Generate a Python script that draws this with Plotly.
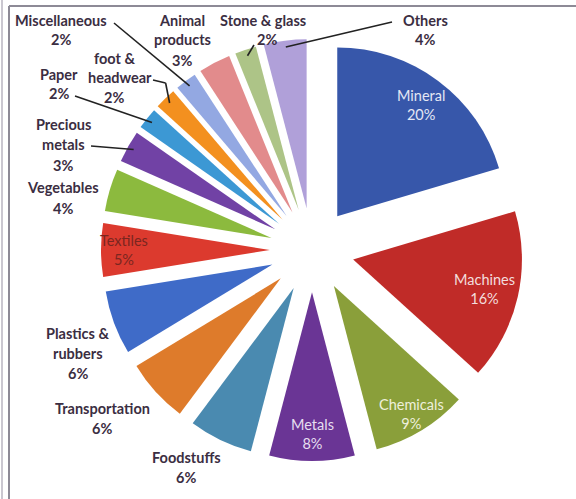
import math
import plotly.graph_objects as go

# ---------------- data ----------------
categories = ["Mineral", "Machines", "Chemicals", "Metals", "Foodstuffs",
              "Transportation", "Plastics & rubbers", "Textiles", "Vegetables",
              "Precious metals", "Paper", "foot & headwear", "Miscellaneous",
              "Animal products", "Stone & glass", "Others"]
shares = [20, 16, 9, 8, 6, 6, 6, 5, 4, 3, 2, 2, 2, 3, 2, 4]
colors = ["#3757aa", "#c02b28", "#8a9f3a", "#6a3595", "#4a8ab0",
          "#de7b2b", "#3f6bc8", "#dc3a2e", "#8cba3e", "#7142a5",
          "#3c98d4", "#f3901f", "#93a8e2", "#e28b8c", "#adc487", "#b0a0d9"]

# label text lines (outside labels) and inside-label categories
label_lines = {
    "Miscellaneous": ["Miscellaneous", "2%"],
    "Animal products": ["Animal", "products", "3%"],
    "Stone & glass": ["Stone & glass", "2%"],
    "Others": ["Others", "4%"],
    "foot & headwear": ["foot &", "headwear", "2%"],
    "Paper": ["Paper", "2%"],
    "Precious metals": ["Precious", "metals", "3%"],
    "Vegetables": ["Vegetables", "4%"],
    "Plastics & rubbers": ["Plastics &", "rubbers", "6%"],
    "Transportation": ["Transportation", "6%"],
    "Foodstuffs": ["Foodstuffs", "6%"],
}
inside_labels = ["Mineral", "Machines", "Chemicals", "Metals", "Textiles"]

# ---------------- layout geometry ----------------
W, H = 576, 499
CX, CY = 312, 250          # pie centre (px)
S = 211                    # radius incl. pull (px)
PULL = 0.25

def px(x):
    return x / W

def py(y):
    return 1 - y / H

fig = go.Figure()
fig.add_trace(go.Pie(
    labels=categories, values=shares, sort=False, direction="clockwise",
    rotation=0, pull=[PULL] * len(shares),
    marker=dict(colors=colors, line=dict(width=0)),
    textinfo="none", hovertemplate="%{label}: %{value}%<extra></extra>",
    domain=dict(x=[px(CX - S), px(CX + S)], y=[py(CY + S), py(CY - S)]),
    showlegend=False,
))

# mid angles from data
total = sum(shares)
mid = {}
acc = 0
for c, v in zip(categories, shares):
    mid[c] = (acc + v / 2) / total * 2 * math.pi
    acc += v

def slice_point(c, frac):
    a = mid[c]
    return CX + frac * S * math.sin(a), CY - frac * S * math.cos(a)

annotations = []
txt_col = "#3b2e42"
FONT = "Lato"
FS = 14.5
FS_IN = 14.5

# outside label positions (px, centre of first line)
label_pos = {
    "Miscellaneous": (61, 20),
    "Animal products": (182, 20),
    "Stone & glass": (263, 20),
    "Others": (425, 20),
    "foot & headwear": (114, 58),
    "Paper": (59, 74),
    "Precious metals": (63, 125),
    "Vegetables": (63, 188),
    "Plastics & rubbers": (78, 333),
    "Transportation": (102, 408),
    "Foodstuffs": (186, 457),
}
for c, lines in label_lines.items():
    x0, y0 = label_pos[c]
    for i, t in enumerate(lines):
        xx = x0
        if c == "foot & headwear" and i == 1:
            xx = x0 + 6
        if c == "Stone & glass" and i == 1:
            xx = x0 + 4
        annotations.append(dict(
            x=px(xx), y=py(y0 + 20 * i), xref="paper", yref="paper",
            text="<b>%s</b>" % t, showarrow=False, xanchor="center", yanchor="middle",
            font=dict(family=FONT, size=FS, color=txt_col)))

inside_cols = {"Mineral": "#e4e7f4", "Machines": "#f3dede", "Chemicals": "#eef0dc",
               "Metals": "#e6def0", "Textiles": "#7a2620"}
inside_frac = {"Mineral": 0.86, "Machines": 0.84, "Chemicals": 0.91,
               "Metals": 0.87, "Textiles": 0.89}
for c in inside_labels:
    x, y = slice_point(c, inside_frac[c])
    v = shares[categories.index(c)]
    annotations.append(dict(
        x=px(x), y=py(y), xref="paper", yref="paper",
        text="%s<br>%d%%" % (c, v), showarrow=False, xanchor="center", yanchor="middle",
        font=dict(family=FONT, size=FS_IN, color=inside_cols[c])))

# leader lines: (start px) -> slice outer point
leaders = {
    "Miscellaneous": (114, 23),
    "foot & headwear": (153, 80),
    "Paper": (75, 96),
    "Precious metals": (91, 146),
    "Stone & glass": (254, 45),
    "Others": (392, 22),
}
shapes = []
for c, (x0, y0) in leaders.items():
    x1, y1 = slice_point(c, 0.97)
    if c == "foot & headwear":
        shapes.append(dict(type="line", xref="paper", yref="paper",
                           x0=px(x0), y0=py(y0), x1=px(x1 - 4), y1=py(y0 + 3),
                           line=dict(color="#222", width=1.6)))
        x0, y0 = x1 - 4, y0 + 3
    shapes.append(dict(type="line", xref="paper", yref="paper",
                       x0=px(x0), y0=py(y0), x1=px(x1), y1=py(y1),
                       line=dict(color="#222", width=1.6)))

# frame lines
shapes += [
    dict(type="line", xref="paper", yref="paper", x0=px(9), y0=py(6), x1=1, y1=py(6),
         line=dict(color="#8d8a96", width=2)),
    dict(type="line", xref="paper", yref="paper", x0=px(9), y0=py(6), x1=px(9), y1=0,
         line=dict(color="#8d8a96", width=2)),
    dict(type="line", xref="paper", yref="paper", x0=px(2), y0=1, x1=px(2), y1=0,
         line=dict(color="#b8b5c0", width=1.5)),
]

fig.update_layout(
    width=W, height=H, margin=dict(l=0, r=0, t=0, b=0),
    paper_bgcolor="white", plot_bgcolor="white",
    annotations=annotations, shapes=shapes,
)
fig.write_html("out.html")
